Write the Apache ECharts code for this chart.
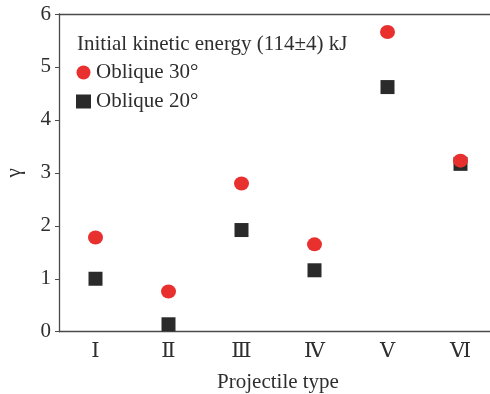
<!DOCTYPE html>
<html>
<head>
<meta charset="utf-8">
<script src="https://cdn.jsdelivr.net/npm/echarts@6/dist/echarts.min.js"></script>
<style>
  html, body { margin: 0; padding: 0; background: #fff; }
  #chart { width: 490px; height: 394px; }
</style>
</head>
<body>
<div id="chart"></div>
<script>
// Projectile types (Roman numerals) and γ values for two oblique angles
const projectileTypes = ['Ⅰ', 'Ⅱ', 'Ⅲ', 'Ⅳ', 'Ⅴ', 'Ⅵ'];
const oblique30 = [1.78, 0.76, 2.80, 1.65, 5.66, 3.23];
const oblique20 = [1.00, 0.14, 1.92, 1.16, 4.62, 3.17];
const yTicks = [0, 1, 2, 3, 4, 5, 6];
const legendTitle = 'Initial kinetic energy (114±4) kJ';

const serif = '"Liberation Serif", "DejaVu Serif", serif';
const textColor = '#2e2e2e';
const axisColor = '#4a4a4a';
const fs = 21;

const chart = echarts.init(document.getElementById('chart'));
chart.setOption({
  animation: false,
  backgroundColor: '#fff',
  textStyle: { fontFamily: serif },
  grid: {
    left: 59, top: 14, width: 438, height: 317.7,
    containLabel: false, outerBoundsMode: 'none'
  },
  title: {
    text: legendTitle,
    left: 77,
    top: 34,
    padding: 0,
    textStyle: { fontFamily: serif, fontSize: fs, fontWeight: 'normal', color: textColor }
  },
  legend: {
    orient: 'vertical',
    left: 76,
    top: 62,
    padding: 0,
    itemWidth: 15,
    itemHeight: 14,
    itemGap: 8,
    textStyle: { fontFamily: serif, fontSize: fs, color: textColor },
    data: [
      { name: 'Oblique 30°', icon: 'circle' },
      { name: 'Oblique 20°', icon: 'rect' }
    ]
  },
  xAxis: [
    {
      type: 'category',
      data: projectileTypes,
      boundaryGap: true,
      name: 'Projectile type',
      nameLocation: 'middle',
      nameGap: 40,
      nameTextStyle: { fontFamily: serif, fontSize: fs, color: textColor },
      axisLine: { lineStyle: { color: axisColor, width: 1.3 } },
      axisTick: { inside: true, alignWithLabel: true, length: 5, lineStyle: { color: axisColor } },
      axisLabel: { fontFamily: serif, fontSize: fs, color: textColor, margin: 9 },
      splitLine: { show: false }
    },
    {
      type: 'category',
      position: 'top',
      data: projectileTypes,
      axisLine: { show: true, lineStyle: { color: axisColor, width: 1.3 } },
      axisTick: { show: false },
      axisLabel: { show: false },
      splitLine: { show: false }
    }
  ],
  yAxis: {
    type: 'value',
    min: 0,
    max: 6,
    interval: 1,
    name: 'γ',
    nameLocation: 'middle',
    nameRotate: 90,
    nameGap: 34,
    nameTextStyle: { fontFamily: serif, fontSize: fs, color: textColor },
    axisLine: { show: true, lineStyle: { color: axisColor, width: 1.3 } },
    axisTick: { show: true, inside: false, length: 4, lineStyle: { color: axisColor } },
    axisLabel: {
      fontFamily: serif, fontSize: fs, color: textColor, margin: 8,
      formatter: v => (yTicks.includes(v) ? String(v) : '')
    },
    splitLine: { show: false }
  },
  series: [
    {
      name: 'Oblique 20°',
      type: 'scatter',
      symbol: 'rect',
      symbolSize: 14,
      itemStyle: { color: '#2a2a2a', opacity: 1 },
      data: oblique20,
      z: 2
    },
    {
      name: 'Oblique 30°',
      type: 'scatter',
      symbol: 'circle',
      symbolSize: [15, 14],
      itemStyle: { color: '#e8302f', opacity: 1 },
      data: oblique30,
      z: 3
    }
  ]
});
</script>
</body>
</html>
